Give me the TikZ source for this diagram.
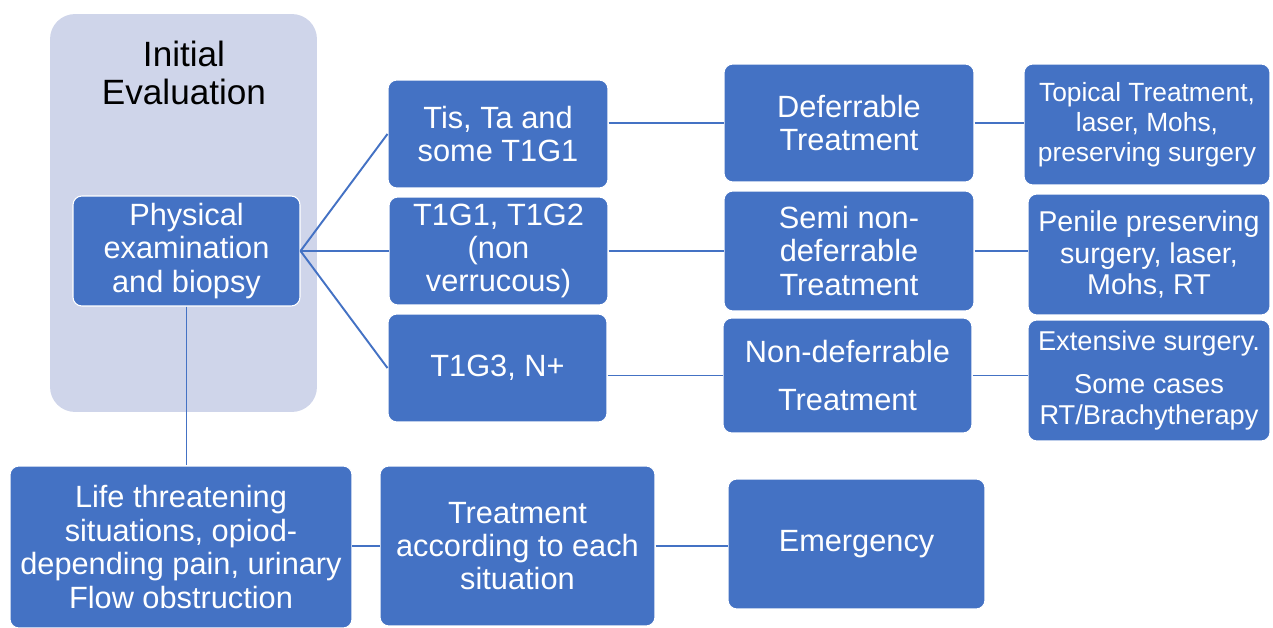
\documentclass[tikz,border=0pt]{standalone}
\usepackage{fontspec}
\setmainfont{Liberation Sans}
\definecolor{boxblue}{HTML}{4472C4}
\definecolor{evalbg}{HTML}{CFD5EA}
\definecolor{linkblue}{HTML}{4472C4}
\tikzset{
	stagebox/.style={fill=boxblue, draw=white, line width=0.6pt, rounded corners=5pt, text=white, align=center, inner sep=0pt, font=\fontsize{17.5}{19}\selectfont},
	optionbox/.style={stagebox, font=\fontsize{15.5}{17.5}\selectfont},
	link/.style={draw=linkblue, line width=1.1pt}
}
\begin{document}
\begin{tikzpicture}[x=0.02cm,y=-0.02cm]
	\useasboundingbox (0,0) rectangle (1273,628);
	% initial evaluation
	\node[fill=evalbg, rounded corners=0.5cm, minimum width=5.34cm, minimum height=7.96cm] (eval) at (183.5,213) {};
	\node[font=\fontsize{20}{21.6}\selectfont, align=center] (evaltitle) at (184,73) {Initial\\Evaluation};
	\node[stagebox, minimum width=4.54cm, minimum height=2.2cm] (phys) at (186.5,251) {Physical\\examination\\and biopsy};
	
	% stages
	\node[stagebox, minimum width=4.4cm, minimum height=2.16cm] (tis) at (498,134) {Tis, Ta and\\some T1G1};
	\node[stagebox, minimum width=4.38cm, minimum height=2.16cm] (tone) at (498.5,251) {T1G1, T1G2\\(non\\verrucous)};
	\node[stagebox, minimum width=4.38cm, minimum height=2.16cm] (tthree) at (497.5,368) {T1G3, N+};
	
	% treatment type
	\node[stagebox, minimum width=5cm, minimum height=2.36cm] (defer) at (849,123) {Deferrable\\Treatment};
	\node[stagebox, minimum width=5cm, minimum height=2.4cm] (semi) at (849,251) {Semi non-\\deferrable\\Treatment};
	\node[stagebox, minimum width=4.98cm, minimum height=2.3cm] (nondef) at (847.5,375.5) {Non-deferrable\\[8pt]Treatment};
	
	% options
	\node[optionbox, font=\fontsize{15}{17}\selectfont, minimum width=4.92cm, minimum height=2.42cm] (topical) at (1147,124.5) {Topical Treatment,\\laser, Mohs,\\preserving surgery};
	\node[optionbox, font=\fontsize{16.3}{18}\selectfont, minimum width=4.84cm, minimum height=2.42cm] (penile) at (1149,254.5) {Penile preserving\\surgery, laser,\\Mohs, RT};
	\node[optionbox, minimum width=4.84cm, minimum height=2.42cm] (extensive) at (1149,380.5) {Extensive surgery.\\[7pt]Some cases\\RT/Brachytherapy};
	
	% emergency path
	\node[stagebox, minimum width=6.84cm, minimum height=3.24cm] (life) at (181,547) {Life threatening\\situations, opiod-\\depending pain, urinary\\Flow obstruction};
	\node[stagebox, minimum width=5.5cm, minimum height=3.2cm] (treat) at (517.5,546) {Treatment\\according to each\\situation};
	\node[stagebox, minimum width=5.14cm, minimum height=2.6cm] (emerg) at (856.5,544) {Emergency};
	
	\draw[link] (phys.east) -- (tis.west);
	\draw[link] (phys.east) -- (tone.west);
	\draw[link] (phys.east) -- (tthree.west);
	
	\draw[link] (tis.east |- defer.west) -- (defer.west);
	\draw[link] (tone.east) -- (semi.west);
	\draw[link] (tthree.east |- nondef.west) -- (nondef.west);
	
	\draw[link] (defer.east) -- (topical.west |- defer.east);
	\draw[link] (semi.east) -- (penile.west |- semi.east);
	\draw[link] (nondef.east) -- (extensive.west |- nondef.east);
	
	\draw[link] (phys.south) -- (phys.south |- life.north);
	\draw[link] (life.east |- treat.west) -- (treat.west);
	\draw[link] (treat.east) -- (emerg.west |- treat.east);
\end{tikzpicture}
\end{document}
